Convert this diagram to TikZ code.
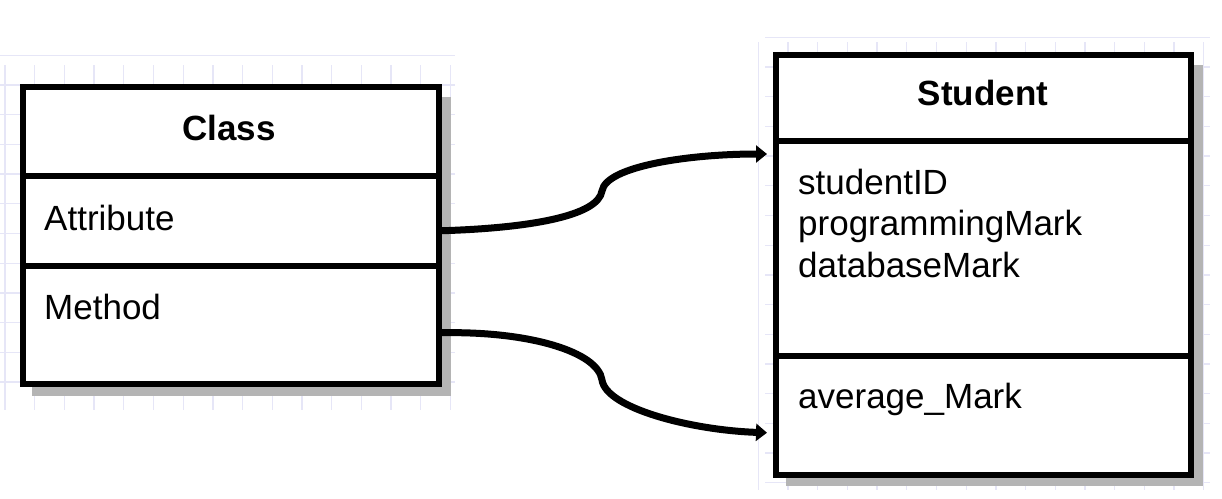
\documentclass[tikz,border=0pt]{standalone}
\usepackage{fontspec}
\setmainfont{Liberation Sans}
\usetikzlibrary{arrows.meta,calc}
\definecolor{gridc}{HTML}{E6E6F7}
\definecolor{shadowc}{HTML}{B4B4B4}
\begin{document}
\begin{tikzpicture}[x=1pt,y=-1pt,
  comp/.style={draw=black,line width=5.5pt,fill=white,inner sep=0pt,anchor=north west,minimum width=#1},
  shadowbox/.style={fill=shadowc,draw=none},
  gridline/.style={draw=gridc,line width=1.3pt},
  label/.style={anchor=base west,inner sep=0pt,font=\fontsize{35}{41}\selectfont},
  title/.style={anchor=base,inner sep=0pt,font=\fontsize{35}{41}\selectfont\bfseries},
  conn/.style={draw=black,line width=7pt,-{Triangle[length=11pt,width=17pt]}}]
\useasboundingbox (0,0) rectangle (1222,498);
\fill[white] (0,0) rectangle (1222,498);
% background grids
\foreach \i in {0,...,15} {\draw[gridline] (5+29.7*\i,65) -- (5+29.7*\i,410);}
\foreach \j in {0,...,11} {\draw[gridline] (0,85+29.7*\j-29.7) -- (455,85+29.7*\j-29.7);}
\foreach \i in {0,...,15} {\draw[gridline] (773+29.7*\i-29.7+15,42) -- (773+29.7*\i-29.7+15,490);}
\foreach \j in {0,...,15} {\draw[gridline] (765,52+29.7*\j-29.7+15) -- (1210,52+29.7*\j-29.7+15);}
% shadows
\fill[shadowbox] (32,97) rectangle (451,396);
\fill[shadowbox] (786,65) rectangle (1203,486);
% Class box
\node[comp=416pt,minimum height=89pt] (classHead) at (20,84) {};
\node[comp=416pt,minimum height=90pt] (classAttr) at (20,173) {};
\node[comp=416pt,minimum height=118pt] (classMeth) at (20,263) {};
\node[title] (classT) at (229,140) {Class};
\node[label] (attrT) at (44,230) {Attribute};
\node[label] (methT) at (44,319) {Method};
% Student box
\node[comp=415pt,minimum height=86pt] (stuHead) at (773,52) {};
\node[comp=415pt,minimum height=215pt] (stuAttr) at (773,138) {};
\node[comp=415pt,minimum height=119pt] (stuMeth) at (773,353) {};
\node[title] (stuT) at (983,105) {Student};
\node[label] (idT) at (798,194) {studentID};
\node[label] (progT) at (798,235) {programmingMark};
\node[label] (dbT) at (798,277) {databaseMark};
\node[label] (avgT) at (798,408) {average\_Mark};
% connectors
\coordinate (midA) at (602,191);
\coordinate (midB) at (602,380);
\draw[conn] ($(classAttr.east)+(0,10)$) .. controls (530,228) and (598,216) .. (midA)
  .. controls (606,166) and (690,154) .. ($(stuAttr.north west)+(-6,16)$);
\draw[conn] ($(classMeth.east)+(0,8)$) .. controls (530,331) and (598,352) .. (midB)
  .. controls (606,408) and (690,430) .. ($(stuMeth.west)+(-6,17.5)$);
\end{tikzpicture}
\end{document}
